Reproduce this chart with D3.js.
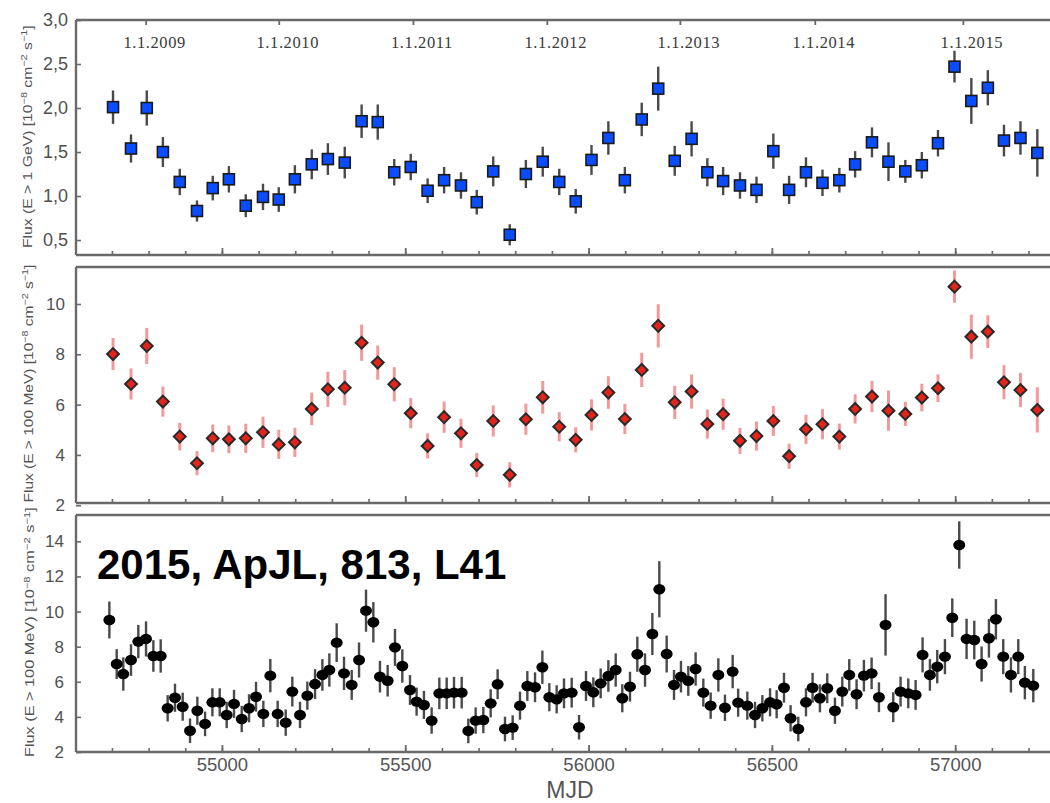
<!DOCTYPE html>
<html><head><meta charset="utf-8">
<script src="https://cdn.jsdelivr.net/npm/d3@7"></script>
<style>body{margin:0;background:#fff} svg{display:block}</style>
</head><body>
<svg id="c" width="1050" height="803"></svg>
<script>
// ---------- data ----------
const topMJD = [54703,54752,54795,54839,54885,54932,54975,55019,55065,55112,55155,55199,55245,55289,55335,55381,55425,55470,55515,55561,55606,55652,55695,55740,55785,55829,55875,55920,55965,56008,56054,56099,56145,56190,56235,56281,56324,56367,56413,56458,56504,56547,56593,56638,56684,56727,56773,56818,56864,56909,56953,56998,57044,57089,57133,57178,57224];
const topFlux = [2.01,1.54,2.00,1.50,1.16,0.83,1.09,1.19,0.89,0.99,0.96,1.19,1.36,1.42,1.38,1.85,1.84,1.27,1.33,1.06,1.18,1.12,0.93,1.28,0.56,1.25,1.39,1.16,0.94,1.41,1.66,1.18,1.87,2.22,1.40,1.65,1.27,1.17,1.12,1.07,1.51,1.07,1.27,1.15,1.18,1.36,1.61,1.39,1.28,1.35,1.60,2.47,2.08,2.23,1.63,1.66,1.49];
const topErr = [0.19,0.16,0.20,0.17,0.15,0.12,0.14,0.15,0.13,0.15,0.14,0.16,0.17,0.18,0.18,0.19,0.20,0.15,0.15,0.14,0.15,0.15,0.14,0.17,0.12,0.16,0.17,0.15,0.14,0.17,0.19,0.15,0.19,0.25,0.17,0.20,0.16,0.16,0.15,0.15,0.20,0.16,0.17,0.15,0.14,0.15,0.17,0.22,0.13,0.15,0.15,0.18,0.26,0.20,0.18,0.19,0.27];

const midMJD = topMJD;
const midFlux = [8.01,6.82,8.33,6.12,4.73,3.67,4.66,4.62,4.66,4.90,4.42,4.50,5.83,6.61,6.67,8.46,7.67,6.81,5.66,4.36,5.50,4.86,3.60,5.35,3.21,5.42,6.29,5.12,4.60,5.59,6.48,5.43,7.38,9.13,6.09,6.52,5.23,5.62,4.56,4.75,5.35,3.95,5.02,5.22,4.73,5.83,6.32,5.76,5.63,6.28,6.65,10.69,8.70,8.90,6.89,6.58,5.79];
const midErr = [0.64,0.62,0.72,0.60,0.55,0.48,0.55,0.55,0.58,0.62,0.58,0.58,0.65,0.70,0.70,0.72,0.68,0.68,0.60,0.50,0.62,0.58,0.48,0.62,0.50,0.62,0.65,0.58,0.50,0.62,0.65,0.60,0.68,0.86,0.66,0.68,0.58,0.62,0.52,0.58,0.60,0.50,0.58,0.60,0.52,0.58,0.62,0.80,0.48,0.55,0.55,0.64,0.88,0.65,0.68,0.68,0.90];

const botMJD = [54693,54713,54731,54752,54772,54793,54813,54833,54852,54872,54893,54913,54933,54954,54974,54994,55013,55033,55054,55074,55093,55113,55132,55152,55174,55192,55213,55233,55254,55274,55293,55313,55333,55354,55374,55393,55413,55431,55452,55472,55492,55513,55531,55551,55572,55593,55613,55633,55654,55672,55692,55713,55733,55752,55772,55793,55813,55833,55854,55874,55893,55913,55933,55954,55974,55993,56013,56033,56054,56074,56092,56113,56133,56154,56174,56193,56213,56233,56252,56272,56292,56313,56333,56354,56372,56393,56408,56433,56454,56474,56495,56513,56533,56551,56572,56593,56611,56631,56651,56672,56692,56711,56731,56751,56772,56792,56810,56831,56851,56872,56892,56911,56931,56951,56972,56992,57011,57031,57052,57072,57092,57111,57131,57152,57172,57190,57213];
const botFlux = [9.52,7.01,6.44,7.24,8.29,8.44,7.47,7.47,4.49,5.09,4.58,3.21,4.35,3.60,4.83,4.83,4.11,4.74,3.88,4.49,5.15,4.17,6.35,4.17,3.67,5.44,4.11,5.21,5.87,6.39,6.67,8.23,6.48,5.82,7.24,10.05,9.39,6.29,6.06,7.96,6.90,5.53,4.87,4.68,3.79,5.34,5.34,5.38,5.38,3.20,3.79,3.82,4.77,5.86,3.31,3.39,4.64,5.76,5.69,6.83,5.12,5.00,5.34,5.38,3.41,5.76,5.40,5.91,6.33,6.67,5.06,5.72,7.57,6.67,8.72,11.27,7.58,5.82,6.29,6.05,6.73,5.38,4.64,6.39,4.52,6.58,4.81,4.64,4.11,4.49,4.83,4.72,5.66,3.92,3.31,4.83,5.66,5.06,5.63,4.35,5.44,6.39,5.29,6.35,6.48,5.12,9.24,4.55,5.44,5.34,5.25,7.53,6.39,6.86,7.43,9.65,13.79,8.44,8.38,7.01,8.48,9.56,7.43,6.39,7.43,5.95,5.78];
const botErr = [1.05,0.85,0.95,0.9,0.95,1.0,0.9,0.95,0.75,0.8,
 0.8,0.7,0.8,0.7,0.8,0.8,0.75,0.8,0.75,0.8,
 0.85,0.75,0.95,0.75,0.75,0.85,0.75,0.8,0.85,0.9,
 0.95,1.1,0.95,0.85,1.0,1.2,1.15,0.9,0.9,1.05,
 0.95,0.85,0.8,0.8,0.75,0.9,0.9,0.9,0.9,0.7,
 0.75,0.75,0.8,0.85,0.7,0.7,0.8,0.85,0.85,0.95,
 0.8,0.8,0.85,0.85,0.7,0.85,0.85,0.85,0.9,0.95,
 0.8,0.85,1.0,0.95,1.2,1.6,1.05,0.85,0.9,0.85,
 0.95,0.8,0.75,0.95,0.75,0.95,0.8,0.8,0.75,0.75,
 0.8,0.8,0.85,0.75,0.7,0.8,0.85,0.8,0.85,0.75,
 0.85,0.9,0.85,0.9,0.9,0.85,1.75,0.85,0.85,0.85,
 0.85,1.0,0.9,0.95,1.0,1.1,1.35,1.15,1.1,1.0,
 1.1,1.15,1.0,1.0,1.0,0.95,0.95];

const topTicks = [0.5,1.0,1.5,2.0,2.5,3.0];
const midTicks = [2,4,6,8,10];
const botTicks = [2,4,6,8,10,12,14];
const mjdTicks = [55000,55500,56000,56500,57000];
const dateTickMJD = [54792,55155,55521,55886,56249,56617,57021];
const dateLabels = ["1.1.2009","1.1.2010","1.1.2011","1.1.2012","1.1.2013","1.1.2014","1.1.2015"];
const topTitle = ["Flux (E > 1 GeV) [10","\u22128"," cm","\u22122"," s","\u22121","]"];
const midTitle = ["Flux (E > 100 MeV) [10","\u22128"," cm","\u22122"," s","\u22121","]"];
const botTitle = ["Flux (E > 100 MeV) [10","\u22128"," cm","\u22122"," s","\u22121","]"];
const note = "2015, ApJL, 813, L41";

// ---------- drawing ----------
const svg = d3.select("#c");
const L = 76, R = 1052;
const x = d3.scaleLinear().domain([54602, 57264]).range([L, R]);
const minorX = d3.range(54700, 57300, 100);
const sans = "'Liberation Sans', Arial, Helvetica, sans-serif";
const axisGray = "#6a6a6a";

const panels = [
  {y0:20, y1:255, dom:[0.33,3.0], ticks:topTicks, fmt:d=>d.toFixed(1).replace('.',','), fs:18, pad:8,
   mjd:topMJD, v:topFlux, e:topErr, kind:"square", title:topTitle, tc:136.5, tl:223, tx:32},
  {y0:267, y1:503, dom:[2.09,11.47], ticks:midTicks, fmt:d3.format("d"), fs:17, pad:11,
   mjd:midMJD, v:midFlux, e:midErr, kind:"diamond", title:midTitle, tc:383.5, tl:238, tx:33},
  {y0:515, y1:752, dom:[2,15.5], ticks:botTicks, fmt:d3.format("d"), fs:17, pad:12,
   mjd:botMJD, v:botFlux, e:botErr, kind:"circle", title:botTitle, tc:632, tl:250, tx:34}
];

panels.forEach((p, pi) => {
  const y = d3.scaleLinear().domain(p.dom).range([p.y1, p.y0]);
  const g = svg.append("g");

  // minor bottom ticks (inward)
  const mt = g.append("g").attr("transform", `translate(0,${p.y1})`)
    .call(d3.axisBottom(x).tickValues(minorX).tickSize(-4).tickFormat(""));
  mt.select(".domain").remove();
  mt.selectAll("line").attr("stroke", axisGray).attr("stroke-width", 1.6);

  // major bottom ticks (with labels on the last panel)
  const majAxis = d3.axisBottom(x).tickValues(mjdTicks).tickSize(-7).tickPadding(6)
    .tickFormat(pi < 2 ? "" : d3.format("d"));
  const mj = g.append("g").attr("transform", `translate(0,${p.y1})`).call(majAxis);
  mj.select(".domain").remove();
  mj.selectAll("line").attr("stroke", axisGray).attr("stroke-width", 1.8);
  mj.selectAll("text").attr("font-family", sans).attr("font-size", 18.5).attr("fill", "#555");

  // left axis
  const la = g.append("g").attr("transform", `translate(${L},0)`)
    .call(d3.axisLeft(y).tickValues(p.ticks).tickSize(-5).tickPadding(p.pad).tickFormat(p.fmt));
  la.select(".domain").remove();
  la.selectAll("line").attr("stroke", axisGray).attr("stroke-width", 1.6);
  la.selectAll("text").attr("font-family", sans).attr("font-size", p.fs).attr("fill", "#505050");

  // frame
  g.append("line").attr("x1", L).attr("x2", R).attr("y1", p.y0).attr("y2", p.y0)
    .attr("stroke", axisGray).attr("stroke-width", 2.4);
  g.append("line").attr("x1", L).attr("x2", R).attr("y1", p.y1).attr("y2", p.y1)
    .attr("stroke", axisGray).attr("stroke-width", 2.4);
  g.append("line").attr("x1", L).attr("x2", L).attr("y1", p.y0).attr("y2", p.y1)
    .attr("stroke", axisGray).attr("stroke-width", 2.4);

  // top date axis on the first panel
  if (pi === 0) {
    const ta = g.append("g").attr("transform", `translate(0,${p.y0})`)
      .call(d3.axisTop(x).tickValues(dateTickMJD).tickSize(-5).tickFormat(""));
    ta.select(".domain").remove();
    ta.selectAll("line").attr("stroke", axisGray).attr("stroke-width", 1.8);
    g.selectAll("text.date").data(dateTickMJD).join("text").attr("class", "date")
      .attr("x", d => x(d) + 9).attr("y", 48).attr("text-anchor", "middle")
      .attr("font-family", "'Liberation Serif', 'Times New Roman', serif")
      .attr("font-size", 16.5).attr("fill", "#3a3a3a").attr("letter-spacing", 0.6)
      .text((d, i) => dateLabels[i]);
  }

  // y title
  const tg = g.append("g").attr("transform", `translate(${p.tx},${p.tc}) rotate(-90)`);
  const tt = tg.append("text").attr("font-family", sans).attr("font-size", 13).attr("fill", "#555")
    .attr("text-anchor", "start");
  p.title.forEach((s, i) => {
    const sup = i % 2 === 1;
    tt.append("tspan").attr("font-size", sup ? 9 : 13).attr("baseline-shift", sup ? "55%" : "0%").text(s);
  });
  const w = tt.node().getComputedTextLength();
  tt.attr("transform", `scale(${p.tl / w},1) translate(${-w / 2},0)`);

  // data
  const pts = p.mjd.map((m, i) => ({m, v: p.v[i], e: p.e[i]}));
  const ebColor = p.kind === "diamond" ? "#f29a9a" : "#4a4a4a";
  const ebW = p.kind === "diamond" ? 3 : 2.4;
  g.selectAll("line.eb").data(pts).join("line").attr("class", "eb")
    .attr("x1", d => x(d.m)).attr("x2", d => x(d.m))
    .attr("y1", d => y(d.v - d.e)).attr("y2", d => y(d.v + d.e))
    .attr("stroke", ebColor).attr("stroke-width", ebW);

  if (p.kind === "square") {
    g.selectAll("rect.pt").data(pts).join("rect").attr("class", "pt")
      .attr("x", d => x(d.m) - 5.5).attr("y", d => y(d.v) - 5.5)
      .attr("width", 11).attr("height", 11)
      .attr("fill", "#0a4cff").attr("stroke", "#1a1a1a").attr("stroke-width", 1.6);
  } else if (p.kind === "diamond") {
    const sym = d3.symbol(d3.symbolSquare, 70);
    g.selectAll("path.pt").data(pts).join("path").attr("class", "pt")
      .attr("d", sym).attr("transform", d => `translate(${x(d.m)},${y(d.v)}) rotate(45)`)
      .attr("fill", "#e3241b").attr("stroke", "#2a2a2a").attr("stroke-width", 2);
  } else {
    g.selectAll("ellipse.pt").data(pts).join("ellipse").attr("class", "pt")
      .attr("cx", d => x(d.m)).attr("cy", d => y(d.v)).attr("rx", 6).attr("ry", 5.2)
      .attr("fill", "#000");
  }
});

// x-axis title
svg.append("text").attr("x", 570).attr("y", 798).attr("text-anchor", "middle")
  .attr("font-family", sans).attr("font-size", 23).attr("fill", "#555").text("MJD");

// annotation
svg.append("text").attr("x", 97).attr("y", 578.5)
  .attr("font-family", sans).attr("font-weight", "bold").attr("font-size", 42)
  .attr("fill", "#000").text(note);
</script>
</body></html>
